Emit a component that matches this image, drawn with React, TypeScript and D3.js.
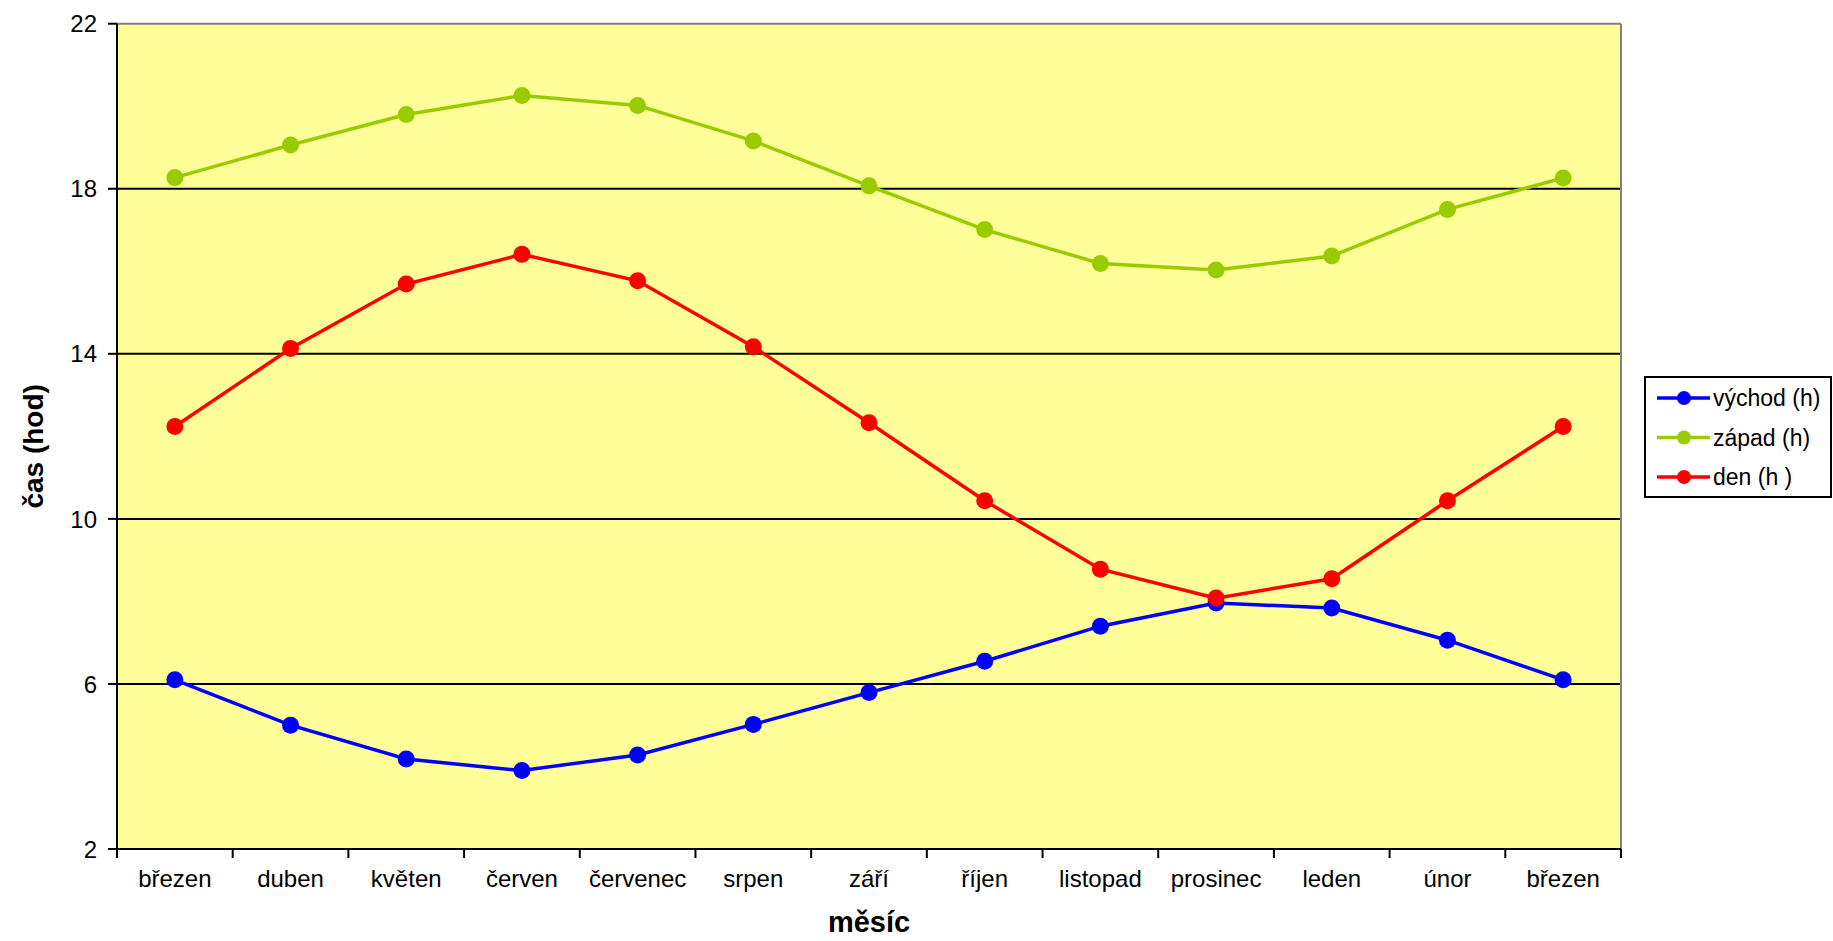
import React from "react";
import * as d3 from "d3";

const categories = ["březen", "duben", "květen", "červen", "červenec", "srpen", "září", "říjen", "listopad", "prosinec", "leden", "únor", "březen"];
const vychod = [6.10, 5.00, 4.18, 3.90, 4.28, 5.02, 5.79, 6.55, 7.40, 7.96, 7.84, 7.06, 6.10];
const zapad = [18.27, 19.06, 19.80, 20.26, 20.02, 19.16, 18.07, 17.01, 16.19, 16.03, 16.37, 17.50, 18.26];
const den = [12.24, 14.13, 15.69, 16.41, 15.77, 14.17, 12.33, 10.44, 8.78, 8.08, 8.55, 10.44, 12.24];
const yTicks = [2, 6, 10, 14, 18, 22];
const seriesNames = ["východ (h)", "západ (h)", "den (h )"];
const seriesColors = ["#0000FF", "#99CC00", "#FF0000"];

const W = 1833;
const H = 941;
const left = 117;
const right = 1621;
const top = 23.7;
const bottom = 849;
const FONT = "'Liberation Sans', Arial, sans-serif";

export default function App() {
  const idx = categories.map((_, i) => i);
  const x = d3.scaleBand<number>().domain(idx).range([left, right]).paddingInner(0).paddingOuter(0);
  const y = d3.scaleLinear().domain([2, 22]).range([bottom, top]);
  const cx = (i: number) => (x(i) as number) + x.bandwidth() / 2;
  const line = d3.line<number>().x((_, i) => cx(i)).y((v) => y(v));
  const series = [vychod, zapad, den];
  const tickXs = d3.range(categories.length + 1).map((i) => left + i * x.bandwidth());

  return (
    <svg width={W} height={H} style={{ position: "absolute", left: 0, top: 0 }} fontFamily={FONT}>
      <rect x={0} y={0} width={W} height={H} fill="#ffffff" />
      <rect x={left} y={top} width={right - left} height={bottom - top} fill="#FFFF99" />
      {yTicks.filter((t) => t !== 2 && t !== 22).map((t) => (
        <line key={t} x1={left} x2={right} y1={y(t)} y2={y(t)} stroke="#000" strokeWidth={2} />
      ))}
      <line x1={left} x2={right} y1={y(22)} y2={y(22)} stroke="#808080" strokeWidth={2} />
      <line x1={right} x2={right} y1={top} y2={bottom} stroke="#808080" strokeWidth={2} />
      <line x1={left} x2={left} y1={top} y2={bottom} stroke="#000" strokeWidth={2} />
      <line x1={left} x2={right} y1={bottom} y2={bottom} stroke="#000" strokeWidth={2} />
      {yTicks.map((t) => (
        <g key={"yt" + t}>
          <line x1={left - 9} x2={left} y1={y(t)} y2={y(t)} stroke="#000" strokeWidth={2} />
          <text x={97} y={y(t)} dy="0.36em" textAnchor="end" fontSize={24} fill="#000">{t}</text>
        </g>
      ))}
      {tickXs.map((tx, i) => (
        <line key={"xt" + i} x1={tx} x2={tx} y1={bottom} y2={bottom + 9} stroke="#000" strokeWidth={2} />
      ))}
      {categories.map((c, i) => (
        <text key={"xl" + i} x={cx(i)} y={887} textAnchor="middle" fontSize={24} fill="#000">{c}</text>
      ))}
      <text x={(left + right) / 2} y={932} textAnchor="middle" fontSize={29} fontWeight="bold" fill="#000">měsíc</text>
      <text transform={`translate(43, ${(top + bottom) / 2 + 10}) rotate(-90)`} textAnchor="middle" fontSize={28} fontWeight="bold" fill="#000">čas (hod)</text>
      {series.map((s, k) => (
        <g key={"s" + k}>
          <path d={line(s) || ""} fill="none" stroke={seriesColors[k]} strokeWidth={3.5} />
          {s.map((v, i) => (
            <circle key={i} cx={cx(i)} cy={y(v)} r={8.5} fill={seriesColors[k]} />
          ))}
        </g>
      ))}
      <rect x={1645} y={377} width={186} height={120} fill="#fff" stroke="#000" strokeWidth={2} />
      {seriesNames.map((n, k) => {
        const ly = 398 + k * 39.5;
        return (
          <g key={"lg" + k}>
            <line x1={1657} x2={1710} y1={ly} y2={ly} stroke={seriesColors[k]} strokeWidth={3.5} />
            <circle cx={1684} cy={ly} r={7} fill={seriesColors[k]} />
            <text x={1713} y={ly} dy="0.36em" fontSize={23} fill="#000">{n}</text>
          </g>
        );
      })}
    </svg>
  );
}
